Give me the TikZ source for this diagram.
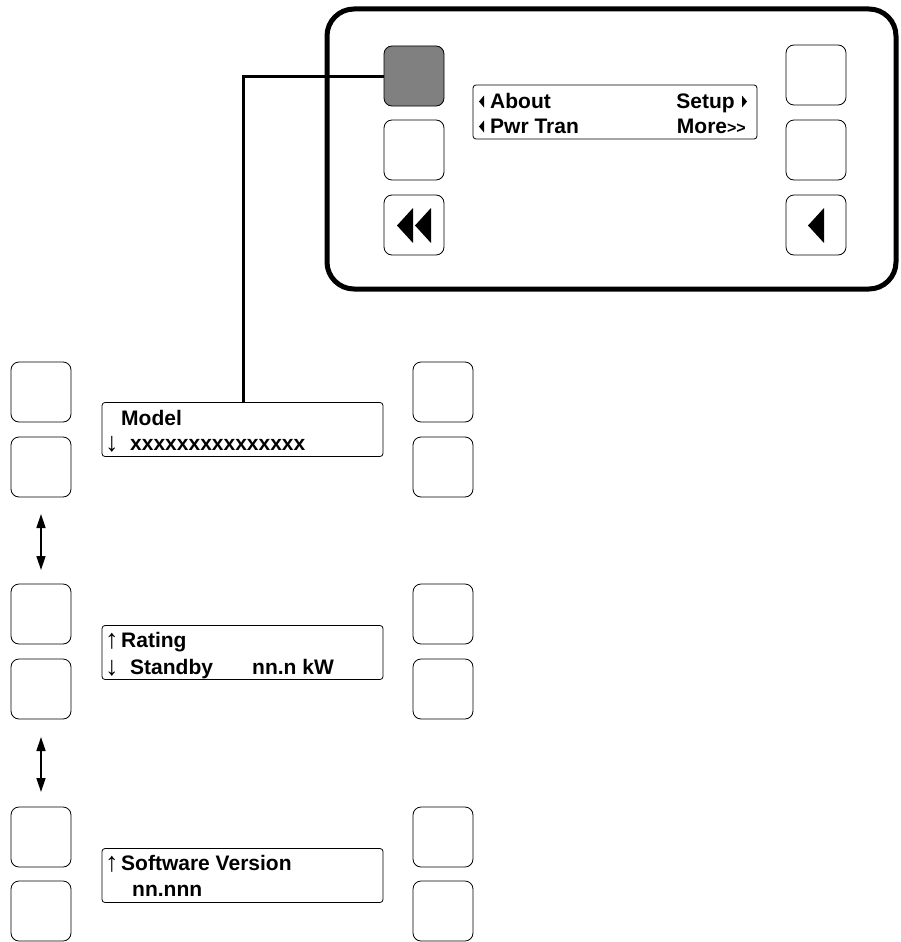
\documentclass[tikz,border=0pt]{standalone}
\usepackage{fontspec}
\setmainfont{Liberation Sans}
\usetikzlibrary{arrows.meta}
\begin{document}
\begin{tikzpicture}[x=1pt,y=-1pt,
  btn/.style={draw,rectangle,rounded corners=8pt,minimum width=60pt,minimum height=60pt,inner sep=0pt,line width=0.8pt},
  lcd/.style={draw,rectangle,rounded corners=3pt,minimum height=54pt,inner sep=0pt,line width=0.8pt},
  txt/.style={inner sep=0pt,font=\fontsize{21}{24}\selectfont\bfseries},
  arr/.style={inner sep=0pt,font=\fontsize{27}{30}\selectfont},
  tri/.style={fill=black},
  dbl/.style={line width=1.5pt,{Triangle[length=14pt,width=9pt]}-{Triangle[length=14pt,width=9pt]}}
]
\useasboundingbox (0,0) rectangle (901,942);
% panel
\node[draw,rectangle,rounded corners=27pt,line width=5pt,minimum width=569pt,minimum height=280pt,inner sep=0pt] (panel) at (611.5,149) {};
\node[btn,fill={rgb,255:red,128;green,128;blue,128}] (pb1) at (414,76) {};
\node[btn] (pb2) at (414,150) {};
\node[btn] (pb3) at (414,225) {};
\node[btn] (pb4) at (816,75) {};
\node[btn] (pb5) at (816,150) {};
\node[btn] (pb6) at (816,225) {};
\fill[tri] (397,225.5) -- (413,208) -- (413,243) -- cycle;
\fill[tri] (415,225.5) -- (431,208) -- (431,243) -- cycle;
\fill[tri] (808,225.5) -- (824,208) -- (824,243) -- cycle;
\node[lcd,minimum width=284pt] (pd) at (615,112) {};
\fill[tri] (479,101.5) -- (484,95.5) -- (484,107.5) -- cycle;
\fill[tri] (479,126.5) -- (484,120.5) -- (484,132.5) -- cycle;
\fill[tri] (747,101.5) -- (742,95.5) -- (742,107.5) -- cycle;
\node[txt,anchor=base west] (tabout) at (490,108) {About};
\node[txt,anchor=base west] (tpwr) at (490,133) {Pwr Tran};
\node[txt,anchor=base east] (tsetup) at (735,108) {Setup};
\node[txt,anchor=base east] (tmore) at (746,133) {More{\fontsize{16}{18}\selectfont{>}{>}}};
% lower section
\foreach \i/\y in {1/392,2/467,3/614,4/689,5/837,6/911}{
  \node[btn] (l\i) at (41,\y) {};
  \node[btn] (r\i) at (443,\y) {};
}
\node[lcd,minimum width=281pt] (d1) at (242.5,429.5) {};
\node[lcd,minimum width=281pt] (d2) at (242.5,652.5) {};
\node[lcd,minimum width=281pt] (d3) at (242.5,875.5) {};
\node[txt,anchor=base west] (t1a) at (121,425) {Model};
\node[arr,anchor=base west] (a1) at (105,451) {↓};
\node[txt,anchor=base west] (t1b) at (130,450) {xxxxxxxxxxxxxxx};
\node[arr,anchor=base west] (a2) at (105,648) {↑};
\node[txt,anchor=base west] (t2a) at (121,647) {Rating};
\node[arr,anchor=base west] (a3) at (105,675) {↓};
\node[txt,anchor=base west] (t2b) at (130,674) {Standby};
\node[txt,anchor=base west] (t2c) at (252,674) {nn.n kW};
\node[arr,anchor=base west] (a4) at (105,871) {↑};
\node[txt,anchor=base west] (t3a) at (121,870) {Software Version};
\node[txt,anchor=base west] (t3b) at (132,896) {nn.nnn};
% double arrows
\coordinate (u1) at (41,514);
\coordinate (v1) at (41,570);
\coordinate (u2) at (41,737);
\coordinate (v2) at (41,792);
\draw[dbl] (u1) -- (v1);
\draw[dbl] (u2) -- (v2);
% connector
\coordinate (jx) at (243,402);
\draw[line width=3pt] (pb1.west) -| (jx);
\end{tikzpicture}
\end{document}
